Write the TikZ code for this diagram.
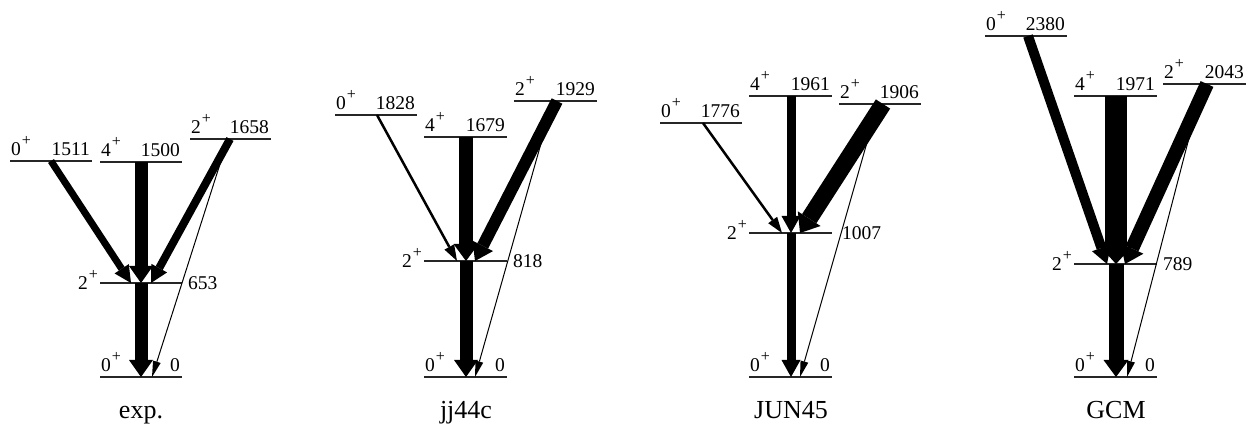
\documentclass[tikz,border=0pt]{standalone}
\usepackage{fontspec}
\setmainfont{Liberation Serif}
\usetikzlibrary{arrows.meta}
\newcommand{\spinlab}[1]{#1\kern1pt\raisebox{0.55em}{\fontsize{16}{16}\selectfont +}}
\begin{document}
\begin{tikzpicture}[x=1pt,y=-1pt,
  lvl/.style={line width=1.3pt,black!85},
  lab/.style={inner sep=0pt,font=\fontsize{19.5}{21}\selectfont},
  ttl/.style={inner sep=0pt,anchor=base,font=\fontsize{26}{28}\selectfont},
  arr/.style n args={3}{line width=#1pt,-{Triangle[length=#3pt,width=#2pt,line width=0pt]}}]
\useasboundingbox (0,0) rectangle (1250,427);

% ================= exp. =================
\draw[lvl] (10,161) coordinate (eAl) -- (92,161) coordinate (eAr);
\node[lab,anchor=base west] (eAs) at (11,156) {\spinlab{0}};
\node[lab,anchor=base east] (eAe) at (90,156) {1511};
\draw[lvl] (100,162) coordinate (eBl) -- (182,162) coordinate (eBr);
\node[lab,anchor=base west] (eBs) at (101,157) {\spinlab{4}};
\node[lab,anchor=base east] (eBe) at (180,157) {1500};
\draw[lvl] (190,139) coordinate (eCl) -- (271,139) coordinate (eCr);
\node[lab,anchor=base west] (eCs) at (191,134) {\spinlab{2}};
\node[lab,anchor=base east] (eCe) at (269,134) {1658};
\draw[lvl] (100,283) coordinate (eDl) -- (182,283) coordinate (eDr);
\node[lab,anchor=base east] (eDs) at (98,290) {\spinlab{2}};
\node[lab,anchor=base west] (eDe) at (188,290) {653};
\draw[lvl] (100,377) coordinate (eEl) -- (182,377) coordinate (eEr);
\node[lab,anchor=base west] (eEs) at (101,372) {\spinlab{0}};
\node[lab,anchor=base east] (eEe) at (180,372) {0};
\node[ttl] (eT) at (141,418) {exp.};
\coordinate (ea1) at (51,161);  \coordinate (ea2) at (131,283);
\coordinate (eb1) at (141,162); \coordinate (eb2) at (141,283);
\coordinate (ec1) at (230,139); \coordinate (ec2) at (151,283);
\coordinate (ed1) at (141,283); \coordinate (ed2) at (141,377);
\coordinate (ee1) at (228,139); \coordinate (ee2) at (152,377);
\draw[arr={1}{8}{16}] (ee1) -- (ee2);
\draw[arr={7}{17}{17}] (ea1) -- (ea2);
\draw[arr={13}{24}{17}] (eb1) -- (eb2);
\draw[arr={8}{18}{17}] (ec1) -- (ec2);
\draw[arr={13}{24}{17}] (ed1) -- (ed2);

% ================= jj44c =================
\draw[lvl] (335,115) coordinate (jAl) -- (417,115) coordinate (jAr);
\node[lab,anchor=base west] (jAs) at (336,110) {\spinlab{0}};
\node[lab,anchor=base east] (jAe) at (415,110) {1828};
\draw[lvl] (424,137) coordinate (jBl) -- (507,137) coordinate (jBr);
\node[lab,anchor=base west] (jBs) at (425,132) {\spinlab{4}};
\node[lab,anchor=base east] (jBe) at (505,132) {1679};
\draw[lvl] (514,101) coordinate (jCl) -- (597,101) coordinate (jCr);
\node[lab,anchor=base west] (jCs) at (515,96) {\spinlab{2}};
\node[lab,anchor=base east] (jCe) at (595,96) {1929};
\draw[lvl] (424,261) coordinate (jDl) -- (507,261) coordinate (jDr);
\node[lab,anchor=base east] (jDs) at (422,268) {\spinlab{2}};
\node[lab,anchor=base west] (jDe) at (513,268) {818};
\draw[lvl] (424,377) coordinate (jEl) -- (507,377) coordinate (jEr);
\node[lab,anchor=base west] (jEs) at (425,372) {\spinlab{0}};
\node[lab,anchor=base east] (jEe) at (505,372) {0};
\node[ttl] (jT) at (466,418) {jj44c};
\coordinate (ja1) at (377,115); \coordinate (ja2) at (457,261);
\coordinate (jb1) at (466,137); \coordinate (jb2) at (466,261);
\coordinate (jc1) at (557,101); \coordinate (jc2) at (475,261);
\coordinate (jd1) at (466,261); \coordinate (jd2) at (466,377);
\coordinate (je1) at (553,101); \coordinate (je2) at (475,377);
\draw[arr={1}{8}{16}] (je1) -- (je2);
\draw[arr={2.5}{11}{16}] (ja1) -- (ja2);
\draw[arr={14}{25}{17}] (jb1) -- (jb2);
\draw[arr={12}{23}{17}] (jc1) -- (jc2);
\draw[arr={13}{24}{17}] (jd1) -- (jd2);

% ================= JUN45 =================
\draw[lvl] (660,123) coordinate (uAl) -- (742,123) coordinate (uAr);
\node[lab,anchor=base west] (uAs) at (661,118) {\spinlab{0}};
\node[lab,anchor=base east] (uAe) at (740,118) {1776};
\draw[lvl] (749,96) coordinate (uBl) -- (832,96) coordinate (uBr);
\node[lab,anchor=base west] (uBs) at (750,91) {\spinlab{4}};
\node[lab,anchor=base east] (uBe) at (830,91) {1961};
\draw[lvl] (839,104) coordinate (uCl) -- (921,104) coordinate (uCr);
\node[lab,anchor=base west] (uCs) at (840,99) {\spinlab{2}};
\node[lab,anchor=base east] (uCe) at (919,99) {1906};
\draw[lvl] (749,233) coordinate (uDl) -- (832,233) coordinate (uDr);
\node[lab,anchor=base east] (uDs) at (747,240) {\spinlab{2}};
\node[lab,anchor=base west] (uDe) at (842,240) {1007};
\draw[lvl] (749,377) coordinate (uEl) -- (832,377) coordinate (uEr);
\node[lab,anchor=base west] (uEs) at (750,372) {\spinlab{0}};
\node[lab,anchor=base east] (uEe) at (830,372) {0};
\node[ttl] (uT) at (791,418) {JUN45};
\coordinate (ua1) at (703,123); \coordinate (ua2) at (782,233);
\coordinate (ub1) at (791,96);  \coordinate (ub2) at (791,233);
\coordinate (uc1) at (883,104); \coordinate (uc2) at (800,233);
\coordinate (ud1) at (791,233); \coordinate (ud2) at (791,377);
\coordinate (ue1) at (878,104); \coordinate (ue2) at (800,377);
\draw[arr={1}{8}{16}] (ue1) -- (ue2);
\draw[arr={2.5}{11}{16}] (ua1) -- (ua2);
\draw[arr={9}{19}{17}] (ub1) -- (ub2);
\draw[arr={17}{27}{17}] (uc1) -- (uc2);
\draw[arr={9}{19}{17}] (ud1) -- (ud2);

% ================= GCM =================
\draw[lvl] (985,36) coordinate (gAl) -- (1067,36) coordinate (gAr);
\node[lab,anchor=base west] (gAs) at (986,31) {\spinlab{0}};
\node[lab,anchor=base east] (gAe) at (1065,31) {2380};
\draw[lvl] (1074,96) coordinate (gBl) -- (1157,96) coordinate (gBr);
\node[lab,anchor=base west] (gBs) at (1075,91) {\spinlab{4}};
\node[lab,anchor=base east] (gBe) at (1155,91) {1971};
\draw[lvl] (1163,84) coordinate (gCl) -- (1246,84) coordinate (gCr);
\node[lab,anchor=base west] (gCs) at (1164,79) {\spinlab{2}};
\node[lab,anchor=base east] (gCe) at (1244,79) {2043};
\draw[lvl] (1074,264) coordinate (gDl) -- (1157,264) coordinate (gDr);
\node[lab,anchor=base east] (gDs) at (1072,271) {\spinlab{2}};
\node[lab,anchor=base west] (gDe) at (1163,271) {789};
\draw[lvl] (1074,377) coordinate (gEl) -- (1157,377) coordinate (gEr);
\node[lab,anchor=base west] (gEs) at (1075,372) {\spinlab{0}};
\node[lab,anchor=base east] (gEe) at (1155,372) {0};
\node[ttl] (gT) at (1116,418) {GCM};
\coordinate (ga1) at (1028,36);  \coordinate (ga2) at (1107,264);
\coordinate (gb1) at (1116,96);  \coordinate (gb2) at (1116,264);
\coordinate (gc1) at (1207,84);  \coordinate (gc2) at (1125,264);
\coordinate (gd1) at (1116,264); \coordinate (gd2) at (1116,377);
\coordinate (ge1) at (1203,84);  \coordinate (ge2) at (1127,377);
\draw[arr={1}{8}{16}] (ge1) -- (ge2);
\draw[arr={10}{20}{17}] (ga1) -- (ga2);
\draw[arr={22}{31}{17}] (gb1) -- (gb2);
\draw[arr={14}{25}{17}] (gc1) -- (gc2);
\draw[arr={15}{25}{17}] (gd1) -- (gd2);
\end{tikzpicture}
\end{document}
